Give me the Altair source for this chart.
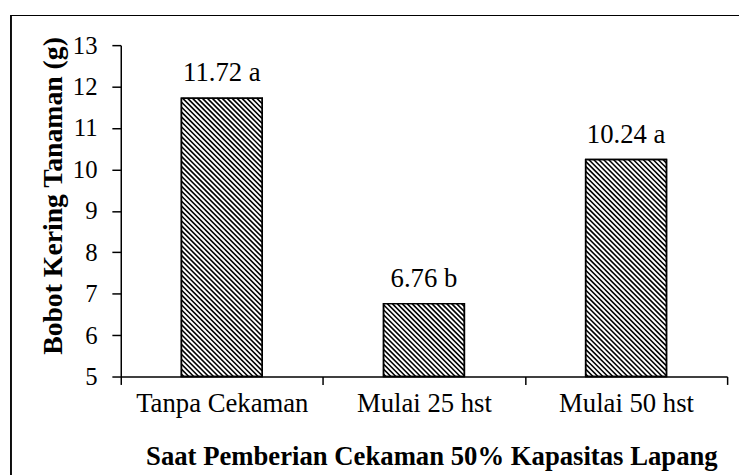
import altair as alt
import pandas as pd

categories = ["Tanpa Cekaman", "Mulai 25 hst", "Mulai 50 hst"]
values = [11.72, 6.76, 10.24]
letters = ["a", "b", "a"]
y_ticks = [5, 6, 7, 8, 9, 10, 11, 12, 13]

W, H = 613, 335
Y_MIN, Y_MAX = 5, 13
FONT = "Liberation Serif"
BAR_HALF = 0.2

df = pd.DataFrame({
    "idx": list(range(len(categories))),
    "cat": categories,
    "val": values,
    "label": [f"{v:.2f} {l}" for v, l in zip(values, letters)],
})
df["x0"] = df["idx"] - BAR_HALF
df["x1"] = df["idx"] + BAR_HALF
df["base"] = Y_MIN

# hatch segments, 45 deg in pixel space, clipped to each bar
kx = W / len(categories)
ky = H / (Y_MAX - Y_MIN)
step = 5.0
segs = []
for i, v in enumerate(values):
    X0 = (i - BAR_HALF + 0.5) * kx
    X1 = (i + BAR_HALF + 0.5) * kx
    Yb, Yt = 0.0, (v - Y_MIN) * ky
    c = X0 + Yb + step / 2
    while c < X1 + Yt:
        xa = max(X0, c - Yt)
        xb = min(X1, c - Yb)
        if xa < xb:
            segs.append({
                "x": xa / kx - 0.5, "x2": xb / kx - 0.5,
                "y": (c - xa) / ky + Y_MIN, "y2": (c - xb) / ky + Y_MIN,
            })
        c += step
hatch_df = pd.DataFrame(segs)

xscale = alt.Scale(domain=[-0.5, len(categories) - 0.5], nice=False, zero=False)
yscale = alt.Scale(domain=[Y_MIN, Y_MAX], nice=False, zero=False)

label_map = "{" + ",".join(f"'{i}':'{c}'" for i, c in enumerate(categories)) + "}"
x_tick_vals = [-0.5, 0, 0.5, 1, 1.5, 2, 2.5]

x_axis = alt.Axis(
    title="Saat Pemberian Cekaman 50% Kapasitas Lapang",
    values=x_tick_vals, grid=False,
    labelExpr=f"datum.value % 1 === 0 ? {label_map}[datum.value] : ''",
    tickOpacity={"condition": {"test": "datum.value % 1 === 0", "value": 0}, "value": 1},
    labelAngle=0, tickSize=8, labelPadding=6, labelFlush=False, labelOverlap=False,
    labelFontSize=27,
    titleX=314, titleY=89, titleBaseline="alphabetic", titleAlign="center", titleFontSize=27,
)
y_axis = alt.Axis(
    title="Bobot Kering Tanaman (g)", values=y_ticks, grid=False,
    tickSize=9, labelPadding=15, labelFontSize=25,
    titleX=-68, titleY=152, titleAngle=270, titleAlign="center", titleBaseline="middle",
    titleFontSize=28,
)

bars = alt.Chart(df).mark_rect(fill="white", stroke="black", strokeWidth=1.5).encode(
    x=alt.X("x0:Q", scale=xscale, axis=x_axis),
    x2="x1:Q",
    y=alt.Y("base:Q", scale=yscale, axis=y_axis),
    y2="val:Q",
)
hatch = alt.Chart(hatch_df).mark_rule(color="black", strokeWidth=1.6).encode(
    x=alt.X("x:Q", scale=xscale, axis=x_axis),
    x2="x2:Q",
    y=alt.Y("y:Q", scale=yscale, axis=y_axis),
    y2="y2:Q",
)
outline = alt.Chart(df).mark_rect(filled=False, stroke="black", strokeWidth=1.5).encode(
    x=alt.X("x0:Q", scale=xscale, axis=x_axis),
    x2="x1:Q",
    y=alt.Y("base:Q", scale=yscale, axis=y_axis),
    y2="val:Q",
)
labels = alt.Chart(df).mark_text(font=FONT, fontSize=27, color="black", dy=-17, baseline="alphabetic").encode(
    x=alt.X("idx:Q", scale=xscale, axis=x_axis),
    y=alt.Y("val:Q", scale=yscale, axis=y_axis),
    text="label:N",
)
border = alt.Chart(df).mark_rect(filled=False, stroke="black", strokeWidth=1.2).encode(
    x=alt.value(-111), x2=alt.value(W + 60), y=alt.value(-30), y2=alt.value(H + 150),
)

chart = alt.layer(border, bars, hatch, outline, labels).properties(
    width=W, height=H,
    autosize=alt.AutoSizeParams(type="none"),
    padding={"left": 114, "top": 35, "right": 12, "bottom": 97},
).configure_view(stroke=None).configure_axis(
    labelFont=FONT, labelColor="black",
    titleFont=FONT, titleFontWeight="bold", titleColor="black",
    domainColor="black", tickColor="black", domainWidth=1.5, tickWidth=1.5,
)

chart.save("out.html", embed_options={"renderer": "svg", "actions": False})
